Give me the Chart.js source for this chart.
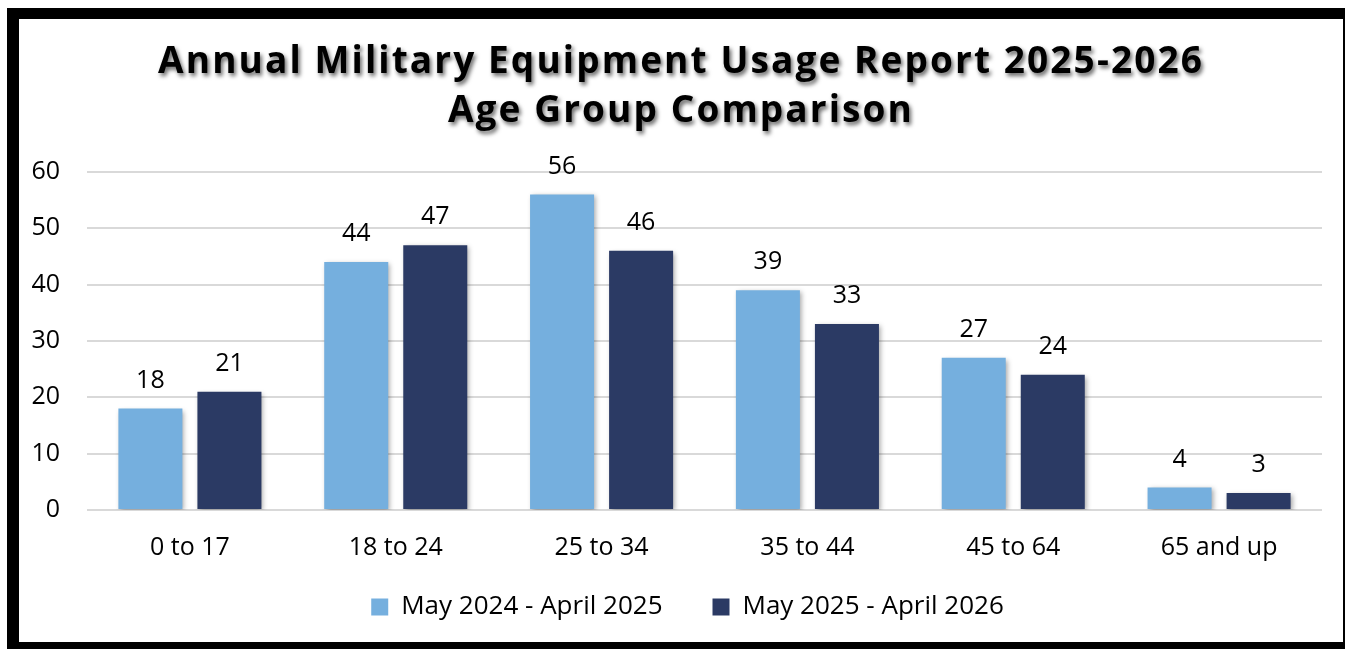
<!DOCTYPE html>
<html>
<head>
<meta charset="utf-8">
<script src="https://cdn.jsdelivr.net/npm/chart.js@4.4.1/dist/chart.umd.min.js"></script>
<style>
  html, body { margin: 0; padding: 0; background: #ffffff; width: 1346px; height: 649px; overflow: hidden; }
  #frame { position: absolute; left: 7px; top: 8px; width: 1324px; height: 623px;
           border-left: 12px solid #000; border-top: 11px solid #000;
           border-right: 2px solid #000; border-bottom: 7px solid #000; background: #fff; }
  #c { position: absolute; left: 0; top: 0; }
</style>
</head>
<body>
<div id="frame"><canvas id="c" width="1324" height="623"></canvas></div>
<script>
const titleLines = ["Annual Military Equipment Usage Report 2025-2026", "Age Group Comparison"];
const categories = ["0 to 17", "18 to 24", "25 to 34", "35 to 44", "45 to 64", "65 and up"];
const seriesNames = ["May 2024 - April 2025", "May 2025 - April 2026"];
const series2024 = [18, 44, 56, 39, 27, 4];
const series2025 = [21, 47, 46, 33, 24, 3];
const yTicks = [0, 10, 20, 30, 40, 50, 60];

const FONT = "'Open Sans', 'Noto Sans', sans-serif";

const shadowPlugin = {
  id: 'shadows',
  beforeLayout(chart) {
    const lg = chart.legend;
    if (lg && !lg._wrappedFit) {
      const origFit = lg.fit.bind(lg);
      lg.fit = function () { origFit(); this.height = 44; };
      lg._wrappedFit = true;
    }
  },
  afterLayout(chart) {
    const lg = chart.legend;
    if (lg) {
      lg.left += 17; lg.right += 17;
      lg.top = 525; lg.bottom = 615;
    }
    const tb = chart.titleBlock;
    if (tb) { tb.left += 10.5; tb.right += 10.5; }
  },
  beforeDraw(chart) {
    const tb = chart.titleBlock;
    if (tb && !tb._wrapped) {
      const orig = tb.draw.bind(tb);
      tb.draw = function (area) {
        const ctx = chart.ctx;
        ctx.save();
        ctx.shadowColor = 'rgba(0,0,0,0.6)';
        ctx.shadowBlur = 4;
        ctx.shadowOffsetX = 2;
        ctx.shadowOffsetY = 3;
        try { ctx.letterSpacing = '2.1px'; } catch (e) {}
        orig(area);
        ctx.restore();
      };
      tb._wrapped = true;
    }
  },
  beforeDatasetsDraw(chart) {
    const ctx = chart.ctx;
    ctx.save();
    ctx.shadowColor = 'rgba(0,0,0,0.35)';
    ctx.shadowBlur = 5;
    ctx.shadowOffsetX = 2;
    ctx.shadowOffsetY = 2;
  },
  afterDatasetsDraw(chart) {
    const ctx = chart.ctx;
    ctx.restore();
    ctx.save();
    ctx.fillStyle = '#000';
    ctx.font = "25px " + FONT;
    ctx.textAlign = 'center';
    ctx.textBaseline = 'middle';
    chart.data.datasets.forEach((ds, di) => {
      const meta = chart.getDatasetMeta(di);
      meta.data.forEach((bar, i) => {
        ctx.fillText(String(ds.data[i]), bar.x, bar.y - 28);
      });
    });
    ctx.restore();
  }
};

new Chart(document.getElementById('c'), {
  type: 'bar',
  data: {
    labels: categories,
    datasets: [
      { label: seriesNames[0], data: series2024, backgroundColor: '#75AFDE', borderWidth: 0,
        categoryPercentage: 0.768, barPercentage: 0.81 },
      { label: seriesNames[1], data: series2025, backgroundColor: '#2B3A64', borderWidth: 0,
        categoryPercentage: 0.768, barPercentage: 0.81 }
    ]
  },
  options: {
    responsive: false,
    devicePixelRatio: 1,
    animation: false,
    layout: { padding: { left: 0, right: 21, top: 0, bottom: 12 } },
    plugins: {
      title: {
        display: true,
        text: titleLines,
        color: '#000',
        font: { family: FONT, size: 37, weight: 'bold', lineHeight: 1.35 },
        padding: { top: 18, bottom: 35 }
      },
      legend: {
        position: 'bottom',
        labels: {
          color: '#000',
          font: { family: FONT, size: 26 },
          boxWidth: 17, boxHeight: 17,
          padding: 50
        }
      },
      tooltip: { enabled: false }
    },
    scales: {
      x: {
        grid: { display: false, drawTicks: false },
        border: { display: false },
        ticks: { color: '#000', font: { family: FONT, size: 25 }, padding: 23 }
      },
      y: {
        min: 0, max: 60,
        afterBuildTicks(scale) { scale.ticks = yTicks.map(v => ({ value: v })); },
        afterFit(scale) { scale.width = 68; },
        grid: { color: '#d9d9d9', lineWidth: 2, drawTicks: false },
        border: { display: false },
        ticks: { color: '#000', font: { family: FONT, size: 25 }, padding: 27 }
      }
    }
  },
  plugins: [shadowPlugin]
});
</script>
</body>
</html>
